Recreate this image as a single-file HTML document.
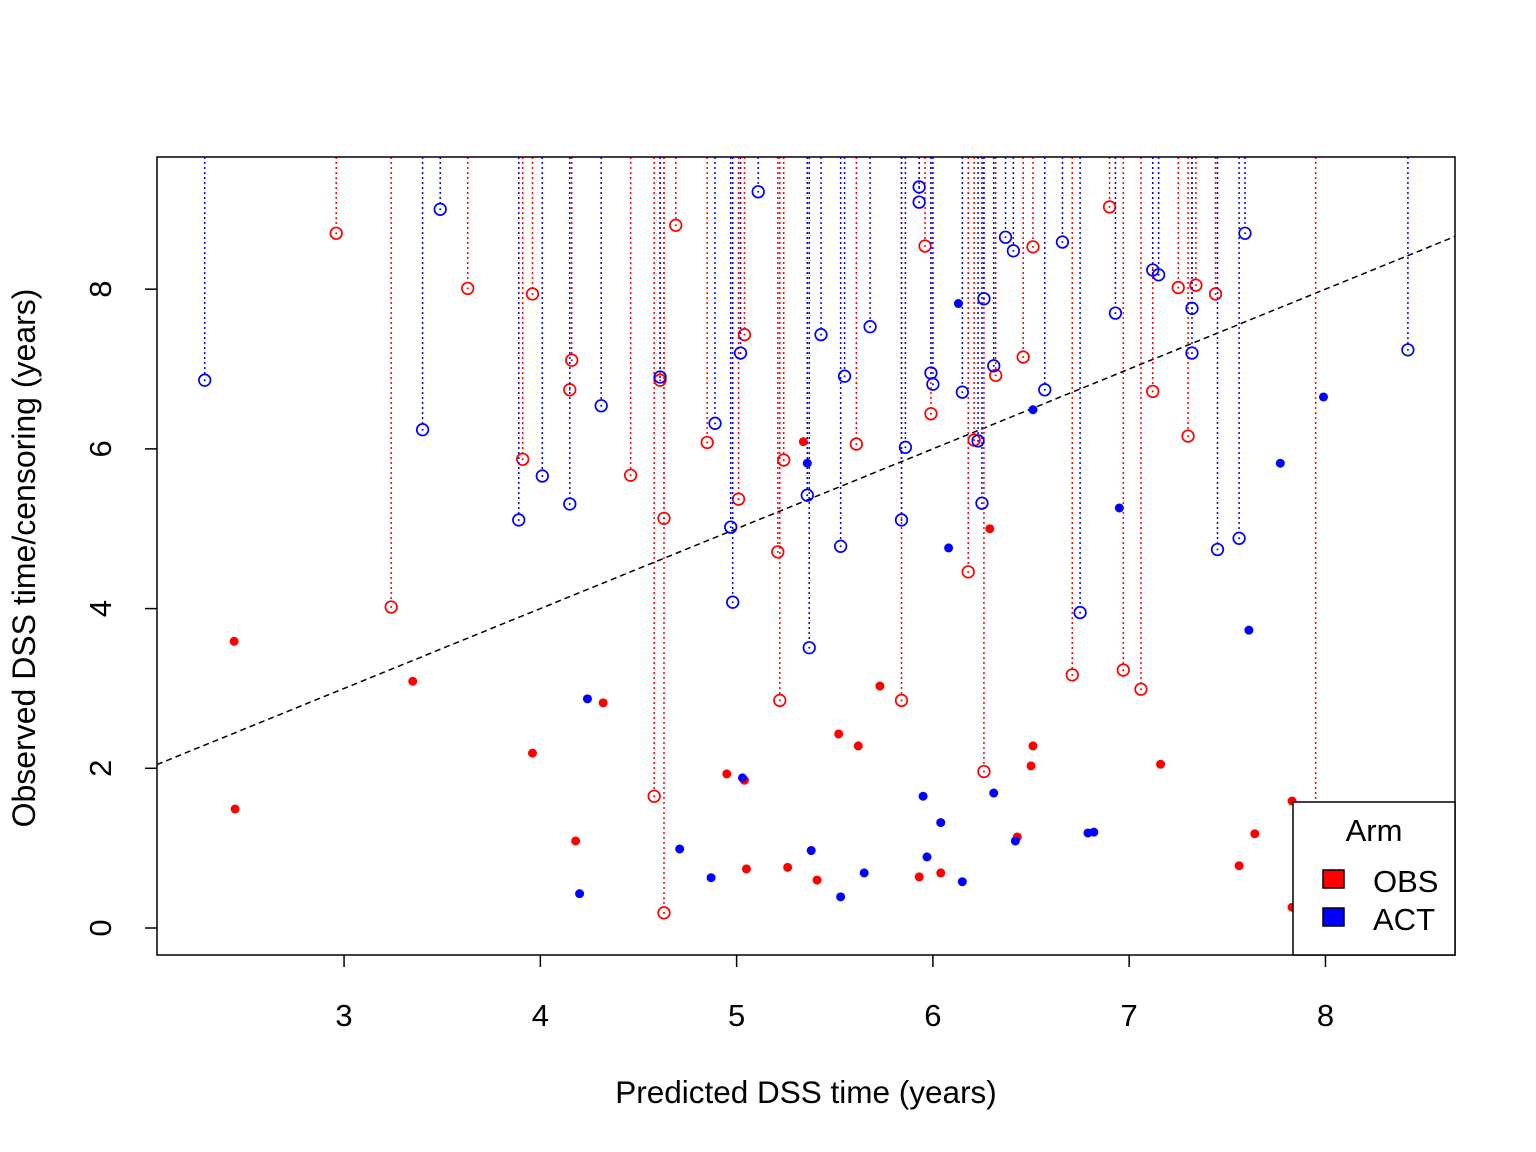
<!DOCTYPE html>
<html><head><meta charset="utf-8"><style>
html,body{margin:0;padding:0;background:#fff;}
svg{display:block;font-family:"Liberation Sans",Arial,sans-serif;}
</style></head>
<body>
<svg id="chart" width="1536" height="1152" viewBox="0 0 1536 1152">
<defs><clipPath id="pc"><rect x="157" y="157" width="1298" height="798"/></clipPath></defs>
<g id="marks" clip-path="url(#pc)"></g>
<g id="axes"></g>
</svg>
<script>
const xTicks=[3,4,5,6,7,8];
const yTicks=[0,2,4,6,8];
const obsEventX=[2.44,2.445,3.35,3.96,4.18,4.32,4.95,5.04,5.05,5.26,5.34,5.41,5.52,5.62,5.73,5.93,6.04,6.29,6.43,6.50,6.51,7.16,7.56,7.64,7.83,7.83];
const obsEventY=[3.59,1.49,3.09,2.19,1.09,2.82,1.93,1.85,0.74,0.76,6.09,0.60,2.43,2.28,3.03,0.64,0.69,5.00,1.14,2.03,2.28,2.05,0.78,1.18,1.59,0.26];
const actEventX=[4.20,4.24,4.71,4.87,5.03,5.36,5.38,5.53,5.65,5.95,5.97,6.04,6.08,6.13,6.15,6.31,6.42,6.51,6.79,6.82,6.95,7.61,7.77,7.99];
const actEventY=[0.43,2.87,0.99,0.63,1.88,5.82,0.97,0.39,0.69,1.65,0.89,1.32,4.76,7.82,0.58,1.69,1.09,6.49,1.19,1.20,5.26,3.73,5.82,6.65];
const obsCensX=[2.96,3.24,3.63,3.91,3.96,4.15,4.16,4.46,4.58,4.61,4.63,4.63,4.69,4.85,5.01,5.04,5.21,5.22,5.24,5.61,5.84,5.96,5.99,6.18,6.21,6.26,6.32,6.46,6.51,6.71,6.90,6.97,7.06,7.12,7.25,7.30,7.34,7.44,7.95];
const obsCensY=[8.70,4.02,8.01,5.87,7.94,6.74,7.11,5.67,1.65,6.86,5.13,0.19,8.80,6.08,5.37,7.43,4.71,2.85,5.86,6.06,2.85,8.54,6.44,4.46,6.11,1.96,6.92,7.15,8.53,3.17,9.03,3.23,2.99,6.72,8.02,6.16,8.05,7.94,0.9];
const actCensX=[2.29,3.40,3.49,3.89,4.01,4.15,4.31,4.61,4.89,4.97,4.98,5.02,5.11,5.36,5.37,5.43,5.55,5.53,5.68,5.84,5.86,5.93,5.93,5.99,6.00,6.15,6.23,6.25,6.26,6.31,6.37,6.41,6.57,6.66,6.75,6.93,7.12,7.15,7.32,7.32,7.45,7.56,7.59,8.42];
const actCensY=[6.86,6.24,9.00,5.11,5.66,5.31,6.54,6.90,6.32,5.02,4.08,7.20,9.22,5.42,3.51,7.43,6.91,4.78,7.53,5.11,6.02,9.28,9.09,6.95,6.81,6.71,6.10,5.32,7.88,7.04,8.65,8.48,6.74,8.59,3.95,7.70,8.24,8.18,7.76,7.20,4.74,4.88,8.70,7.24];

const X0=157,X1=1455,Y0=157,Y1=955;
const xMin=2.047,xMax=8.66,yMin=-0.338,yMax=9.655;
const sx=v=>X0+(v-xMin)/(xMax-xMin)*(X1-X0);
const sy=v=>Y1-(v-yMin)/(yMax-yMin)*(Y1-Y0);
const NS='http://www.w3.org/2000/svg';
const marks=document.getElementById('marks'),axes=document.getElementById('axes');
function mk(tag,attrs,parent){const e=document.createElementNS(NS,tag);for(const k in attrs)e.setAttribute(k,attrs[k]);parent.appendChild(e);return e;}

const ref=mk('line',{x1:sx(xMin),y1:sy(xMin),x2:sx(xMax),y2:sy(xMax),stroke:'#000','stroke-width':1.5,'stroke-dasharray':'6,4'},marks);



function cens(xs,ys,col,name){
  xs.forEach((v,i)=>{
    const cx=sx(v),cy=sy(ys[i]);
    const l=mk('line',{x1:cx,y1:Y0,x2:cx,y2:cy-6,stroke:col,'stroke-width':1.5,'stroke-dasharray':'2,3'},marks);
    
    
    const c=mk('circle',{cx:cx,cy:cy,r:5.8,fill:'none',stroke:col,'stroke-width':1.7},marks);
    
    
    mk('circle',{cx:cx,cy:cy,r:1,fill:col},marks);
  });
}
function ev(xs,ys,col,name){
  xs.forEach((v,i)=>{
    const c=mk('circle',{cx:sx(v),cy:sy(ys[i]),r:4.5,fill:col},marks);
    
    
  });
}
cens(obsCensX,obsCensY,'#ff0000','obs-censored');
cens(actCensX,actCensY,'#0000ff','act-censored');
ev(obsEventX,obsEventY,'#ff0000','obs-event');
ev(actEventX,actEventY,'#0000ff','act-event');

const fr=mk('rect',{x:X0,y:Y0,width:X1-X0,height:Y1-Y0,fill:'none',stroke:'#000','stroke-width':1.5},axes);


xTicks.forEach(t=>{
  const x=sx(t);
  mk('line',{x1:x,y1:Y1,x2:x,y2:Y1+12,stroke:'#000','stroke-width':1.5},axes);
  const tx=mk('text',{x:x,y:1026,'font-size':31,'text-anchor':'middle'},axes);
  tx.textContent=t;
  
  
});
yTicks.forEach(t=>{
  const y=sy(t);
  mk('line',{x1:X0,y1:y,x2:X0-12,y2:y,stroke:'#000','stroke-width':1.5},axes);
  const tx=mk('text',{x:111,y:y,'font-size':31,'text-anchor':'middle',transform:`rotate(-90 111 ${y})`},axes);
  tx.textContent=t;
  
  
});
</script>
<svg style="position:absolute;left:0;top:0" width="1536" height="1152">
<text x="806" y="1103" font-size="31.5" text-anchor="middle" font-family="Liberation Sans, sans-serif">Predicted DSS time (years)</text>
<text x="35" y="558" font-size="32" text-anchor="middle" font-family="Liberation Sans, sans-serif" transform="rotate(-90 35 558)">Observed DSS time/censoring (years)</text>
<g>
<rect x="1293" y="802" width="162" height="153" fill="#fff" stroke="#000" stroke-width="1.5"/>
<text x="1374" y="841" font-size="31" text-anchor="middle" font-family="Liberation Sans, sans-serif">Arm</text>
<rect x="1323" y="870" width="21" height="18" fill="#ff0000" stroke="#000" stroke-width="1.5"/>
<text x="1373" y="892" font-size="31" font-family="Liberation Sans, sans-serif">OBS</text>
<rect x="1323" y="908" width="21" height="18" fill="#0000ff" stroke="#000" stroke-width="1.5"/>
<text x="1373" y="930" font-size="31" font-family="Liberation Sans, sans-serif">ACT</text>
</g>
</svg>
</body></html>
